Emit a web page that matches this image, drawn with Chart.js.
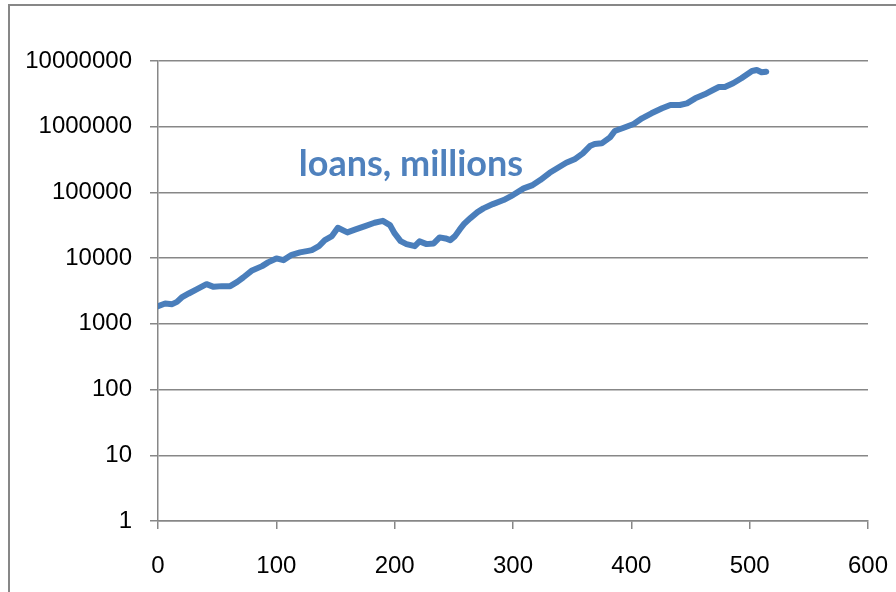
<!DOCTYPE html>
<html>
<head>
<meta charset="utf-8">
<script src="https://cdn.jsdelivr.net/npm/chart.js@4"></script>
<style>
    html, body { margin: 0; padding: 0; background: #fff; overflow: hidden; }
    #wrap { position: relative; width: 896px; height: 592px; }
    #frame {
        position: absolute; left: 8px; top: 4px;
        width: 1000px; height: 1000px;
        border: 2px solid #878787; box-sizing: border-box;
    }
    canvas { position: absolute; left: 0; top: 0; }
</style>
</head>
<body>
<div id="wrap">
    <div id="frame"></div>
    <canvas id="chart" width="896" height="592"></canvas>
</div>
<script>
// Valeurs
const xValues = [0, 6, 12, 16, 20, 26, 33, 41, 47, 54, 61, 67, 72, 79, 88, 93, 100, 106, 113, 120,
    127, 130, 136, 141, 147, 152, 160, 167, 175, 183, 190, 196, 200, 205, 210, 217, 221, 227, 233, 238,
    243, 247, 251, 255, 259, 264, 270, 275, 283, 292, 300, 309, 316, 323, 331, 338, 345, 352, 359, 365,
    369, 375, 382, 386, 393, 402, 409, 417, 426, 433, 441, 447, 454, 462, 469, 474, 479, 486, 493, 502,
    506, 510, 514];
const loanValues = [1860, 2040, 1995, 2160, 2520, 2900, 3375, 4020, 3660, 3750, 3750, 4360, 5080, 6410, 7560, 8610, 9900, 9330, 11240, 12220,
    12920, 13250, 15240, 18800, 21640, 28970, 24650, 27360, 30740, 34510, 36990, 31840, 23780, 18160, 16350, 15240, 17980, 16350, 16760, 20690,
    19950, 18800, 21640, 27360, 33790, 40660, 50200, 57150, 66500, 76550, 91200, 115300, 127900, 154200, 199100, 237300, 282700, 318700, 393600, 508000,
    544700, 558500, 688800, 860000, 955000, 1099000, 1343000, 1599000, 1905000, 2138000, 2138000, 2270000, 2705000, 3113000, 3620000, 4018000, 4018000, 4580000, 5456000, 7047000,
    7297000, 6730000, 6873000];
const yTickValues = [1, 10, 100, 1000, 10000, 100000, 1000000, 10000000];
const seriesLabel = 'loans, millions';

const blue = '#4a7ebb';
const grey = '#878787';

// Titre dans la zone du graphique
const titlePlugin = {
    id: 'inlineTitle',
    afterDraw(chart) {
        const ctx = chart.ctx;
        ctx.save();
        ctx.font = 'bold 36px Lato';
        ctx.fillStyle = '#4f81bd';
        ctx.textAlign = 'center';
        ctx.textBaseline = 'alphabetic';
        ctx.fillText(seriesLabel, 411, 176);
        ctx.restore();
    }
};

new Chart(document.getElementById('chart').getContext('2d'), {
    type: 'line',
    data: {
        datasets: [{
            label: seriesLabel,
            data: xValues.map((x, i) => ({ x: x, y: loanValues[i] })),
            borderColor: blue,
            borderWidth: 6,
            pointRadius: 0,
            tension: 0,
            borderJoinStyle: 'round',
            borderCapStyle: 'round'
        }]
    },
    options: {
        responsive: false,
        animation: false,
        layout: { padding: { left: 0, right: 28, top: 61, bottom: 0 } },
        plugins: { legend: { display: false }, tooltip: { enabled: false } },
        scales: {
            x: {
                type: 'linear',
                min: 0, max: 600,
                afterFit: (scale) => {
                    scale.height = 71;
                    scale.paddingLeft = 0;
                    scale.paddingRight = 0;
                },
                ticks: {
                    stepSize: 100,
                    padding: 23,
                    color: '#000',
                    font: { family: 'Liberation Sans', size: 24 }
                },
                grid: { drawOnChartArea: false, tickLength: 8, color: grey, lineWidth: 1.5 },
                border: { color: grey, width: 1.5 }
            },
            y: {
                type: 'logarithmic',
                min: 1, max: 10000000,
                afterFit: (scale) => { scale.width = 158; },
                afterBuildTicks: (scale) => { scale.ticks = yTickValues.map(v => ({ value: v })); },
                ticks: {
                    padding: 18,
                    color: '#000',
                    font: { family: 'Liberation Sans', size: 24 },
                    callback: (v) => String(v)
                },
                grid: { tickLength: 8, color: grey, lineWidth: 1.5 },
                border: { color: grey, width: 1.5 }
            }
        }
    },
    plugins: [titlePlugin]
});
</script>
</body>
</html>
